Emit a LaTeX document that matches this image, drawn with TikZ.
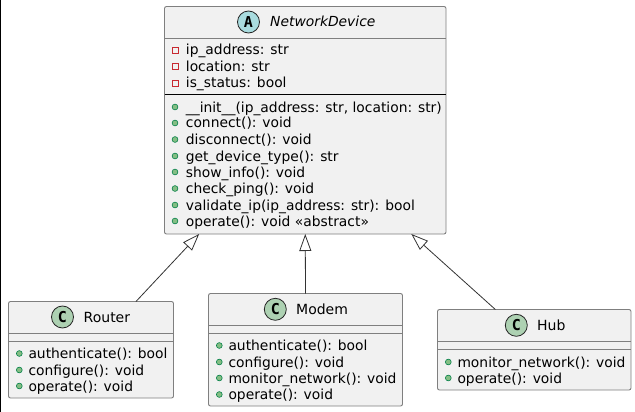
\documentclass[tikz,border=0pt]{standalone}
\usepackage{fontspec}
\setmainfont{DejaVu Sans}
\newfontfamily\iconfont{DejaVu Sans Mono}[BoldFont={DejaVu Sans Mono Bold}]
\usetikzlibrary{arrows.meta}
\definecolor{boxfill}{HTML}{F1F1F1}
\definecolor{boxline}{HTML}{7F7F7F}
\definecolor{abstractcolor}{HTML}{A9DCDF}
\definecolor{classcolor}{HTML}{ADD1B2}
\definecolor{publicfill}{HTML}{84BE84}
\definecolor{publicline}{HTML}{038048}
\definecolor{privateline}{HTML}{C82930}
\tikzset{
  classbox/.style={draw=boxline,fill=boxfill,line width=.9pt,rounded corners=2pt,inner sep=0pt,outer sep=0pt},
  sepline/.style={draw=boxline,line width=.9pt},
  membertext/.style={anchor=base west,inner sep=0pt,font=\fontsize{13.85}{16}\selectfont},
  titletext/.style={anchor=base west,inner sep=0pt,font=\fontsize{14}{16}\selectfont},
  icon/.style={circle,draw=black!85,line width=.8pt,minimum size=22pt,inner sep=0pt,font=\iconfont\bfseries\fontsize{15}{15}\selectfont},
  inherit/.style={draw=black!80,line width=.8pt,-{Triangle[open,fill=white,length=17pt,width=12pt]}}
}
\newcommand{\publicmark}[2]{\fill[publicfill,draw=publicline,line width=.6pt] (#1,#2) circle (2.9pt);}
\newcommand{\privatemark}[2]{\draw[privateline,line width=.9pt] (#1-3,#2-3) rectangle (#1+3,#2+3);}
\begin{document}
\begin{tikzpicture}[x=1pt,y=-1pt]
  \useasboundingbox (0,0) rectangle (635,412);
  \fill[black] (0,0) rectangle (1,412);

  % parent class
  \node[classbox,minimum width=281.5pt,minimum height=227.5pt] (device) at (305.25,120.25) {};
  \draw[sepline] (164.5,38) -- (446,38);
  \draw[black,line width=.9pt] (164.5,94.5) -- (446,94.5);
  \node[icon,fill=abstractcolor] (deviceicon) at (248.5,22) {A};
  \node[titletext,font=\fontsize{13.85}{16}\selectfont\itshape] (devicename) at (270,27) {NetworkDevice};
  \foreach \name/\y/\txt in {ipaddr/50/ip\_address: str,loc/66.5/location: str,status/83/is\_status: bool} {
    \privatemark{175}{\y}
    \node[membertext] (\name) at (185.7,\y+5) {\txt};
  }
  \foreach \name/\y/\txt in {init/107/{\_\_init\_\_(ip\_address: str, location: str)},connect/123/connect(): void,disconnect/139.5/disconnect(): void,devtype/156/get\_device\_type(): str,showinfo/172/show\_info(): void,checkping/188.5/check\_ping(): void,validate/205/validate\_ip(ip\_address: str): bool,operate/221/operate(): void «abstract»} {
    \publicmark{175}{\y}
    \node[membertext] (\name) at (185.7,\y+5) {\txt};
  }

  % router
  \node[classbox,minimum width=165pt,minimum height=96.5pt] (router) at (91,349.75) {};
  \draw[sepline] (8.5,333) -- (173.5,333);
  \draw[sepline] (8.5,341) -- (173.5,341);
  \node[icon,fill=classcolor] (routericon) at (62.5,317) {C};
  \node[titletext] (routername) at (83.5,322) {Router};
  \foreach \name/\y/\txt in {rauth/353.5/authenticate(): bool,rconf/370/configure(): void,roper/386/operate(): void} {
    \publicmark{19.3}{\y}
    \node[membertext] (\name) at (28.3,\y+5) {\txt};
  }

  % modem
  \node[classbox,minimum width=194pt,minimum height=112.5pt] (modem) at (305.5,349.75) {};
  \draw[sepline] (208.5,325) -- (402.5,325);
  \draw[sepline] (208.5,333) -- (402.5,333);
  \node[icon,fill=classcolor] (modemicon) at (275.3,309.3) {C};
  \node[titletext] (modemname) at (296,314) {Modem};
  \foreach \name/\y/\txt in {mauth/345.5/authenticate(): bool,mconf/362/configure(): void,mmon/378/monitor\_network(): void,moper/394.5/operate(): void} {
    \publicmark{219.3}{\y}
    \node[membertext] (\name) at (228.3,\y+5) {\txt};
  }

  % hub
  \node[classbox,minimum width=193.5pt,minimum height=80.5pt] (hub) at (534.25,349.75) {};
  \draw[sepline] (437.5,341) -- (631,341);
  \draw[sepline] (437.5,349) -- (631,349);
  \node[icon,fill=classcolor] (hubicon) at (516.3,325.3) {C};
  \node[titletext] (hubname) at (537,330) {Hub};
  \foreach \name/\y/\txt in {hmon/362/monitor\_network(): void,hoper/378/operate(): void} {
    \publicmark{448.3}{\y}
    \node[membertext] (\name) at (457.3,\y+5) {\txt};
  }

  % inheritance
  \draw[inherit] (router.47.6) -- (device.227);
  \draw[inherit] (modem.north) -- (device.south);
  \draw[inherit] (hub.134.3) -- (device.313.2);
\end{tikzpicture}
\end{document}
